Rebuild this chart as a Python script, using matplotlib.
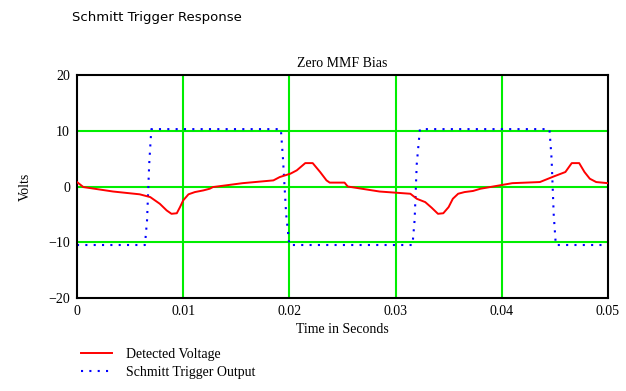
import matplotlib
matplotlib.use("Agg")
import matplotlib.pyplot as plt

# Detected voltage (V) versus time (s)
t_det = [0.0, 0.0006, 0.0034, 0.0059, 0.0069, 0.0078, 0.00845, 0.0089, 0.0094,
         0.0097, 0.0100, 0.0105, 0.0111, 0.0119, 0.0125, 0.0128, 0.0156, 0.0185,
         0.0191, 0.0201, 0.0207, 0.0215, 0.0222, 0.0229, 0.0235, 0.0238, 0.0252,
         0.0255, 0.0285, 0.0314, 0.0320, 0.0328, 0.0334, 0.0340, 0.0345, 0.0350,
         0.0354, 0.0359, 0.0365, 0.0373, 0.0380, 0.0410, 0.0436, 0.0449, 0.0460,
         0.0466, 0.0473, 0.0478, 0.0483, 0.0489, 0.0500]
v_det = [0.8, -0.1, -0.9, -1.4, -1.9, -3.1, -4.3, -4.9, -4.8,
         -3.7, -2.5, -1.4, -1.0, -0.7, -0.4, -0.1, 0.6, 1.1,
         1.7, 2.3, 2.9, 4.2, 4.2, 2.6, 1.1, 0.7, 0.7,
         0.0, -0.9, -1.3, -2.2, -2.8, -3.8, -4.9, -4.8, -3.7,
         -2.2, -1.3, -1.0, -0.8, -0.4, 0.6, 0.8, 1.8, 2.6,
         4.2, 4.2, 2.6, 1.4, 0.8, 0.6]

# Schmitt trigger output (V) versus time (s)
t_trig = [0.0, 0.0064, 0.0066, 0.0068, 0.0070, 0.0192, 0.0194, 0.0197, 0.0200,
          0.0316, 0.0318, 0.0320, 0.0323, 0.0445, 0.0447, 0.0449, 0.0451, 0.0500]
v_trig = [-10.5, -10.5, -6.0, 4.0, 10.3, 10.3, 5.0, -5.0, -10.5,
          -10.5, -6.0, 4.0, 10.3, 10.3, 5.0, -5.0, -10.5, -10.5]

x_ticks = [0, 0.01, 0.02, 0.03, 0.04, 0.05]
x_tick_labels = ["0", "0.01", "0.02", "0.03", "0.04", "0.05"]
y_ticks = [-20, -10, 0, 10, 20]

serif = ["Liberation Serif", "DejaVu Serif"]

fig = plt.figure(figsize=(6.26, 3.91), dpi=100)
ax = fig.add_axes([0.123, 0.238, 0.848, 0.570])

for xv in x_ticks[1:-1]:
    ax.axvline(xv, color="#00ee00", lw=1.5, zorder=1)
for yv in y_ticks[1:-1]:
    ax.axhline(yv, color="#00ee00", lw=1.5, zorder=1)

ax.plot(t_det, v_det, color="#ff0000", lw=1.4, label="Detected Voltage", zorder=3)
ax.plot(t_trig, v_trig, color="#0000ff", lw=1.5, linestyle=(0, (1, 3)),
        label="Schmitt Trigger Output", zorder=2)

ax.set_xlim(0, 0.05)
ax.set_ylim(-20, 20)
ax.set_xticks(x_ticks)
ax.set_xticklabels(x_tick_labels)
ax.set_yticks(y_ticks)
ax.tick_params(length=0, pad=5, labelsize=10)
for lab in ax.get_xticklabels() + ax.get_yticklabels():
    lab.set_family(serif)
for sp in ax.spines.values():
    sp.set_linewidth(1.5)
    sp.set_color("black")

ax.set_title("Zero MMF Bias", family=serif, fontsize=10, pad=6)
ax.set_xlabel("Time in Seconds", family=serif, fontsize=10, labelpad=4)
ax.set_ylabel("Volts", family=serif, fontsize=10, labelpad=12)

fig.text(0.115, 0.955, "Schmitt Trigger Response", family="DejaVu Sans",
         fontsize=9.5, ha="left", va="center")

leg = fig.legend(loc="upper left", bbox_to_anchor=(0.121, 0.125), frameon=False,
                 prop={"family": serif, "size": 10}, handlelength=2.2,
                 handletextpad=1.0, labelspacing=0.35, borderaxespad=0)

fig.savefig("out.png", dpi=100)
